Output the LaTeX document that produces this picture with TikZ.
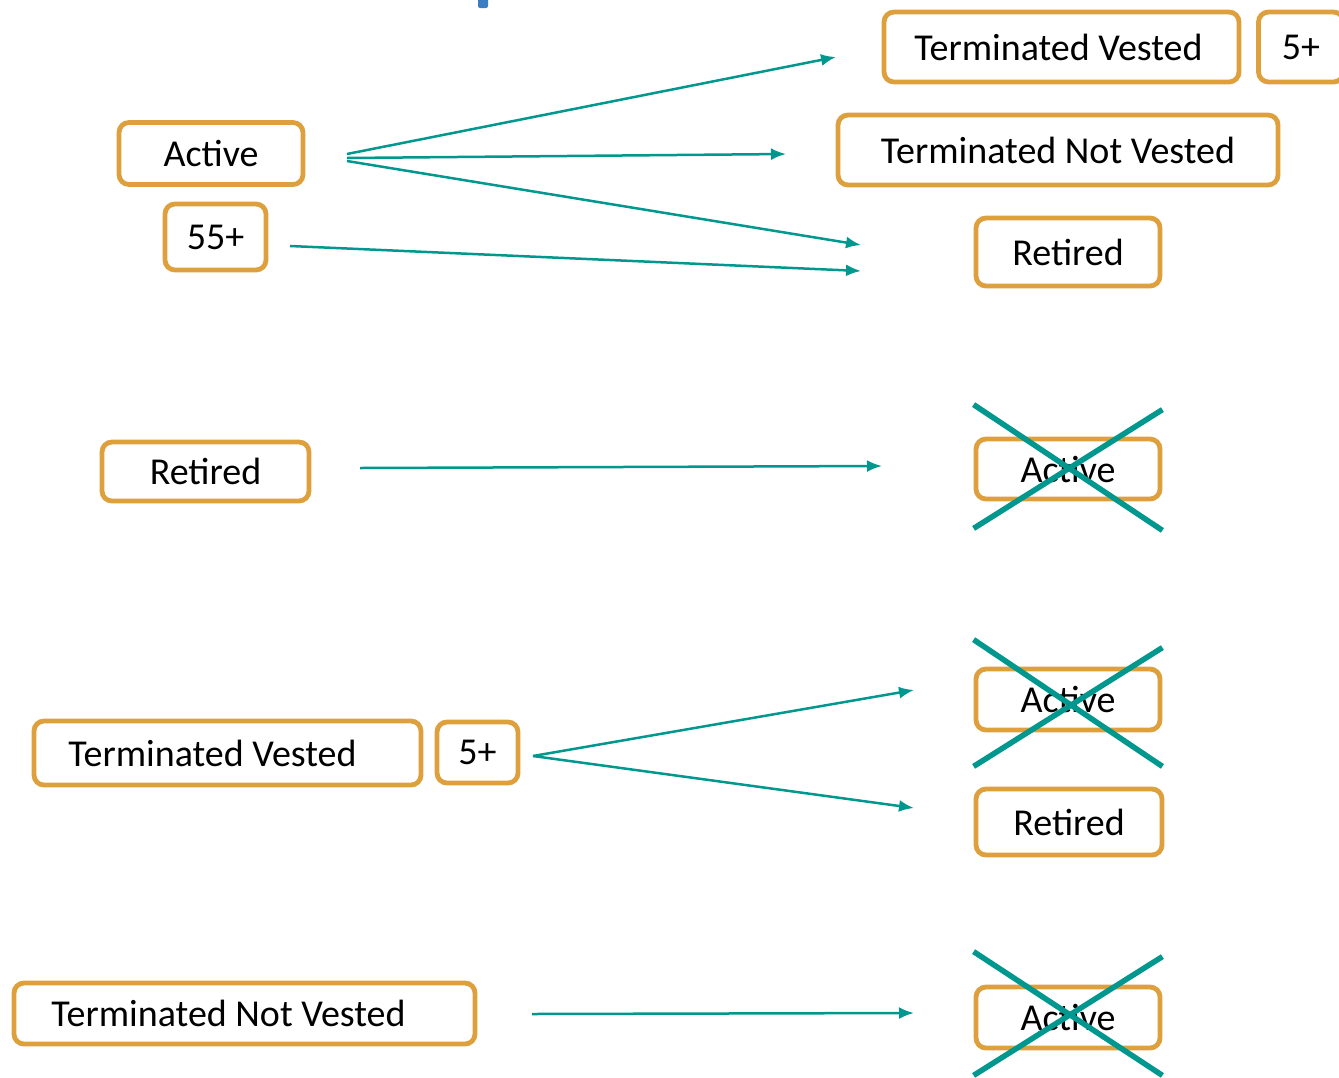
\documentclass[tikz,border=0pt]{standalone}
\usepackage{fontspec}
\setmainfont{Carlito}
\usetikzlibrary{arrows.meta}
\definecolor{boxorange}{HTML}{DDA03C}
\definecolor{flowteal}{HTML}{00978F}
\definecolor{markblue}{HTML}{3B7DC4}
\tikzset{
  state/.style={draw=boxorange, line width=4.8pt, rounded corners=10pt, inner sep=0pt, fill=white, font=\fontsize{38}{44}\selectfont},
  flow/.style={draw=flowteal, line width=2.5pt, -{Latex[length=15pt,width=12pt]}},
  crossline/.style={draw=flowteal, line width=5.5pt}
}
\begin{document}
\begin{tikzpicture}[x=1pt,y=-1pt]
\useasboundingbox (0,0) rectangle (1339,1077);
\fill[markblue, rounded corners=2pt] (478,-4) rectangle (488,8);
\node[state, minimum width=184, minimum height=62] (act0) at (211,153.5) {Active};
\node[state, minimum width=101, minimum height=66] (age0) at (215.5,237) {55+};
\node[state, minimum width=355, minimum height=70] (tv0) at (1061.5,47) {\hspace*{-6pt}Terminated Vested};
\node[state, minimum width=85, minimum height=70] (yrs0) at (1301,47) {5+};
\node[state, minimum width=440, minimum height=70] (tnv0) at (1058,150) {Terminated Not Vested};
\node[state, minimum width=184, minimum height=68] (ret0) at (1068,252) {Retired};
\node[state, minimum width=207, minimum height=59] (ret1) at (205.5,471.5) {Retired};
\node[state, minimum width=184, minimum height=60] (act1) at (1068,469) {Active};
\node[state, minimum width=387, minimum height=64] (tv1) at (227.5,753) {\hspace*{-30pt}Terminated Vested};
\node[state, minimum width=81, minimum height=61] (yrs1) at (477.5,752.5) {5+};
\node[state, minimum width=184, minimum height=61] (act2) at (1068,699.5) {Active};
\node[state, minimum width=186, minimum height=66] (ret2) at (1069,822) {Retired};
\node[state, minimum width=461, minimum height=61] (tnv1) at (244.5,1013.5) {\hspace*{-32pt}Terminated Not Vested};
\node[state, minimum width=184, minimum height=61] (act3) at (1068,1017.5) {Active};
\coordinate (s0) at (347,154);
\coordinate (s1) at (347,158);
\coordinate (s2) at (347,161);
\coordinate (s3) at (290,246);
\coordinate (s4) at (360,468);
\coordinate (s5) at (533,756);
\coordinate (s6) at (532,1014);
\coordinate (e0) at (836,57);
\coordinate (e1) at (786,154);
\coordinate (e2) at (861,245);
\coordinate (e3) at (861,271);
\coordinate (e4) at (882,466);
\coordinate (e5) at (914,690);
\coordinate (e6) at (914,808);
\coordinate (e7) at (914,1013);
\draw[flow] (s0) -- (e0);
\draw[flow] (s1) -- (e1);
\draw[flow] (s2) -- (e2);
\draw[flow] (s3) -- (e3);
\draw[flow] (s4) -- (e4);
\draw[flow] (s5) -- (e5);
\draw[flow] (s5) -- (e6);
\draw[flow] (s6) -- (e7);
\draw[crossline] ([yshift=32pt]act1.north west) -- ([yshift=-29pt]act1.south east);
\draw[crossline] ([yshift=-27pt]act1.south west) -- ([yshift=27pt]act1.north east);
\draw[crossline] ([yshift=27pt]act2.north west) -- ([yshift=-34pt]act2.south east);
\draw[crossline] ([yshift=-34pt]act2.south west) -- ([yshift=19pt]act2.north east);
\draw[crossline] ([yshift=33pt]act3.north west) -- ([yshift=-25pt]act3.south east);
\draw[crossline] ([yshift=-25pt]act3.south west) -- ([yshift=28pt]act3.north east);
\end{tikzpicture}
\end{document}
